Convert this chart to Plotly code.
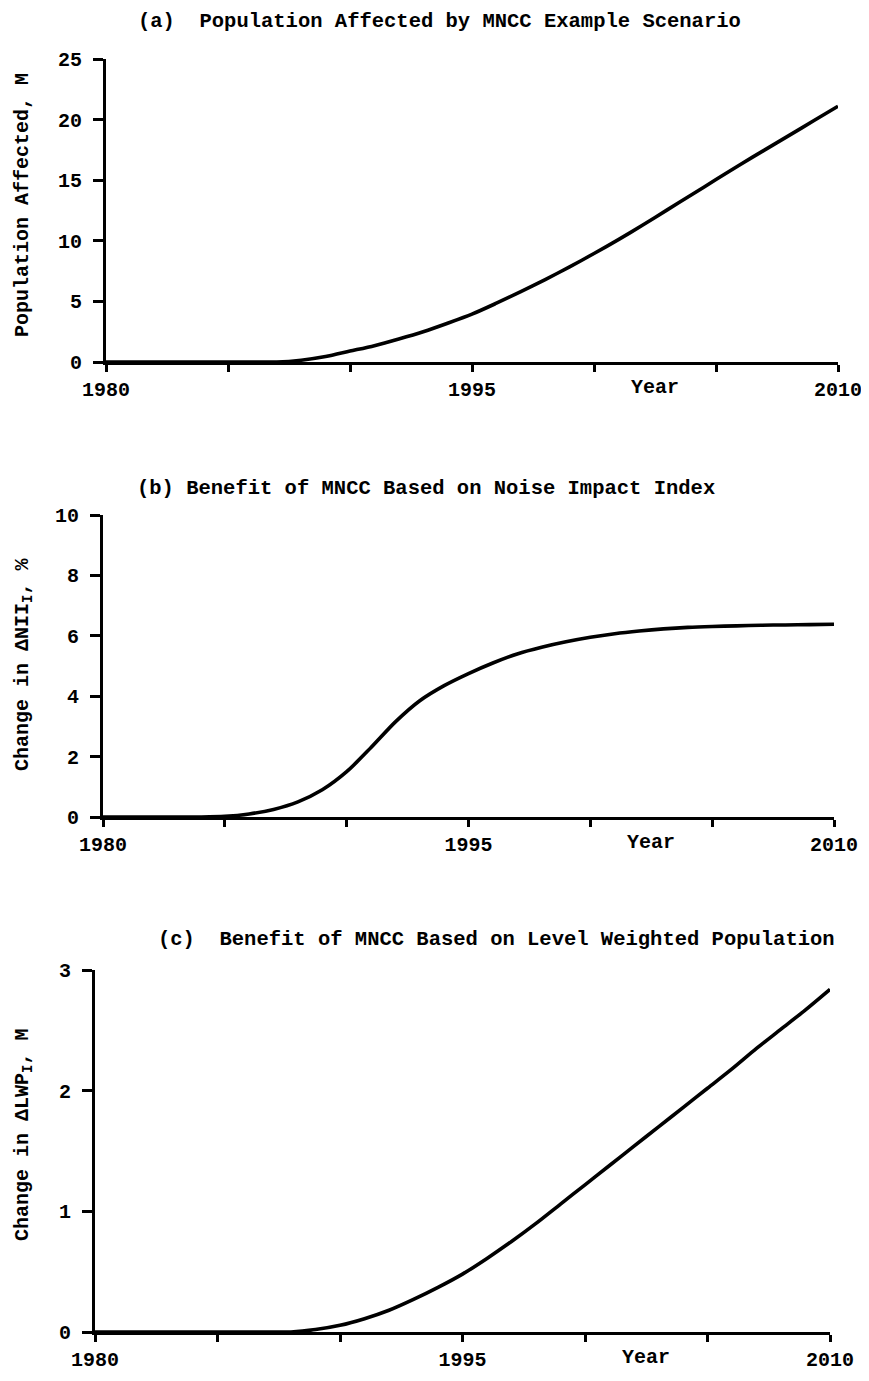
import plotly.graph_objects as go

years = list(range(1980, 2011))

# (a) Population affected, millions
pop_affected = [0, 0, 0, 0, 0, 0, 0, 0, 0.15, 0.45, 0.9, 1.35, 1.9, 2.5, 3.2, 3.95,
                4.85, 5.8, 6.8, 7.85, 8.95, 10.1, 11.3, 12.55, 13.8, 15.05, 16.3,
                17.5, 18.7, 19.9, 21.1]
# (b) Change in delta NII_I, %
delta_nii = [0, 0, 0, 0, 0, 0.02, 0.1, 0.25, 0.5, 0.9, 1.5, 2.3, 3.15, 3.85, 4.35,
             4.75, 5.1, 5.4, 5.62, 5.8, 5.95, 6.07, 6.16, 6.23, 6.28, 6.31, 6.33,
             6.35, 6.36, 6.37, 6.38]
# (c) Change in delta LWP_I, millions
delta_lwp = [0, 0, 0, 0, 0, 0, 0, 0, 0, 0.02, 0.055, 0.11, 0.18, 0.27, 0.37, 0.48,
             0.61, 0.75, 0.9, 1.06, 1.22, 1.38, 1.54, 1.7, 1.86, 2.02, 2.18, 2.35,
             2.51, 2.67, 2.84]

x_labelvals = [1980, 1995, 2010]
x_labeltext = ["1980", "1995", "2010"]
x_tickvals = [1980, 1985, 1990, 1995, 2000, 2005, 2010]

y_ticks_a = [0, 5, 10, 15, 20, 25]
y_ticks_b = [0, 2, 4, 6, 8, 10]
y_ticks_c = [0, 1, 2, 3]

titles = [
    "(a)  Population Affected by MNCC Example Scenario",
    "(b) Benefit of MNCC Based on Noise Impact Index",
    "(c)  Benefit of MNCC Based on Level Weighted Population",
]
ytitles = [
    "Population Affected, M",
    "Change in \u0394NII<sub>I</sub>, %",
    "Change in \u0394LWP<sub>I</sub>, M",
]

OFF = 8  # page body margin of the browser
W, H = 869 - 2 * OFF, 1381 - 2 * OFF
FONT = "Liberation Mono"


def px_x(p):
    return (p - OFF) / W


def px_y(p):
    return 1 - (p - OFF) / H


# pixel boxes in the reference: (left, right, top, bottom)
boxes = [(106, 838, 59, 362), (103, 834, 515, 817), (95, 830, 970, 1332)]
yranges = [[0, 25], [0, 10], [0, 3]]
yticks = [y_ticks_a, y_ticks_b, y_ticks_c]
series = [pop_affected, delta_nii, delta_lwp]
title_pos = [(440, 22), (426, 488), (496, 939)]
ytitle_pos = [205, 665, 1135]

fig = go.Figure()
layout = dict(
    width=W, height=H,
    margin=dict(l=0, r=0, t=0, b=0, pad=0),
    paper_bgcolor="white", plot_bgcolor="white",
    showlegend=False,
    font=dict(family=FONT, size=20, color="black", weight="bold"),
)
annotations = []

for i in range(3):
    l, r, t, b = boxes[i]
    xa = "xaxis" if i == 0 else f"xaxis{i+1}"
    ya = "yaxis" if i == 0 else f"yaxis{i+1}"
    xref = "x" if i == 0 else f"x{i+1}"
    yref = "y" if i == 0 else f"y{i+1}"
    fig.add_trace(go.Scatter(
        x=years, y=series[i], mode="lines",
        line=dict(color="black", width=3.6, shape="spline", smoothing=0.8),
        xaxis=xref, yaxis=yref, hoverinfo="skip",
    ))
    layout[xa] = dict(
        domain=[px_x(l), px_x(r)], range=[1980, 2010], anchor=yref,
        showline=True, linecolor="black", linewidth=3,
        showgrid=False, zeroline=False,
        tickmode="array", tickvals=x_labelvals, ticktext=x_labeltext,
        ticks="outside", ticklen=7, tickwidth=2.5, tickcolor="black",
        minor=dict(tickmode="array", tickvals=x_tickvals, ticks="outside",
                   ticklen=7, tickwidth=2.5, tickcolor="black", showgrid=False),
        ticklabeloverflow="allow",
        tickfont=dict(family=FONT, size=20, color="black", weight="bold"),
        automargin=False, fixedrange=True,
    )
    layout[ya] = dict(
        domain=[px_y(b), px_y(t)], range=yranges[i], anchor=xref,
        showline=True, linecolor="black", linewidth=3,
        showgrid=False, zeroline=False,
        tickmode="array", tickvals=yticks[i],
        ticks="outside", ticklen=10, tickwidth=2.5, tickcolor="black",
        ticklabelstandoff=7, ticklabeloverflow="allow",
        tickfont=dict(family=FONT, size=20, color="black", weight="bold"),
        automargin=False, fixedrange=True,
    )
    annotations.append(dict(
        x=2002.5, y=0, xref=xref, yref=yref, text="Year", showarrow=False,
        yanchor="top", yshift=-12, font=dict(family=FONT, size=20, color="black", weight="bold"),
    ))
    tx, ty = title_pos[i]
    annotations.append(dict(
        x=px_x(tx), y=px_y(ty), xref="paper", yref="paper", text=titles[i],
        showarrow=False, xanchor="center", yanchor="middle",
        font=dict(family=FONT, size=20.5, color="black", weight="bold"),
    ))
    annotations.append(dict(
        x=px_x(23), y=px_y(ytitle_pos[i]), xref="paper", yref="paper",
        text=ytitles[i], textangle=-90, showarrow=False,
        xanchor="center", yanchor="middle",
        font=dict(family=FONT, size=20, color="black", weight="bold"),
    ))

layout["annotations"] = annotations
fig.update_layout(**layout)
fig.write_html("out.html")
